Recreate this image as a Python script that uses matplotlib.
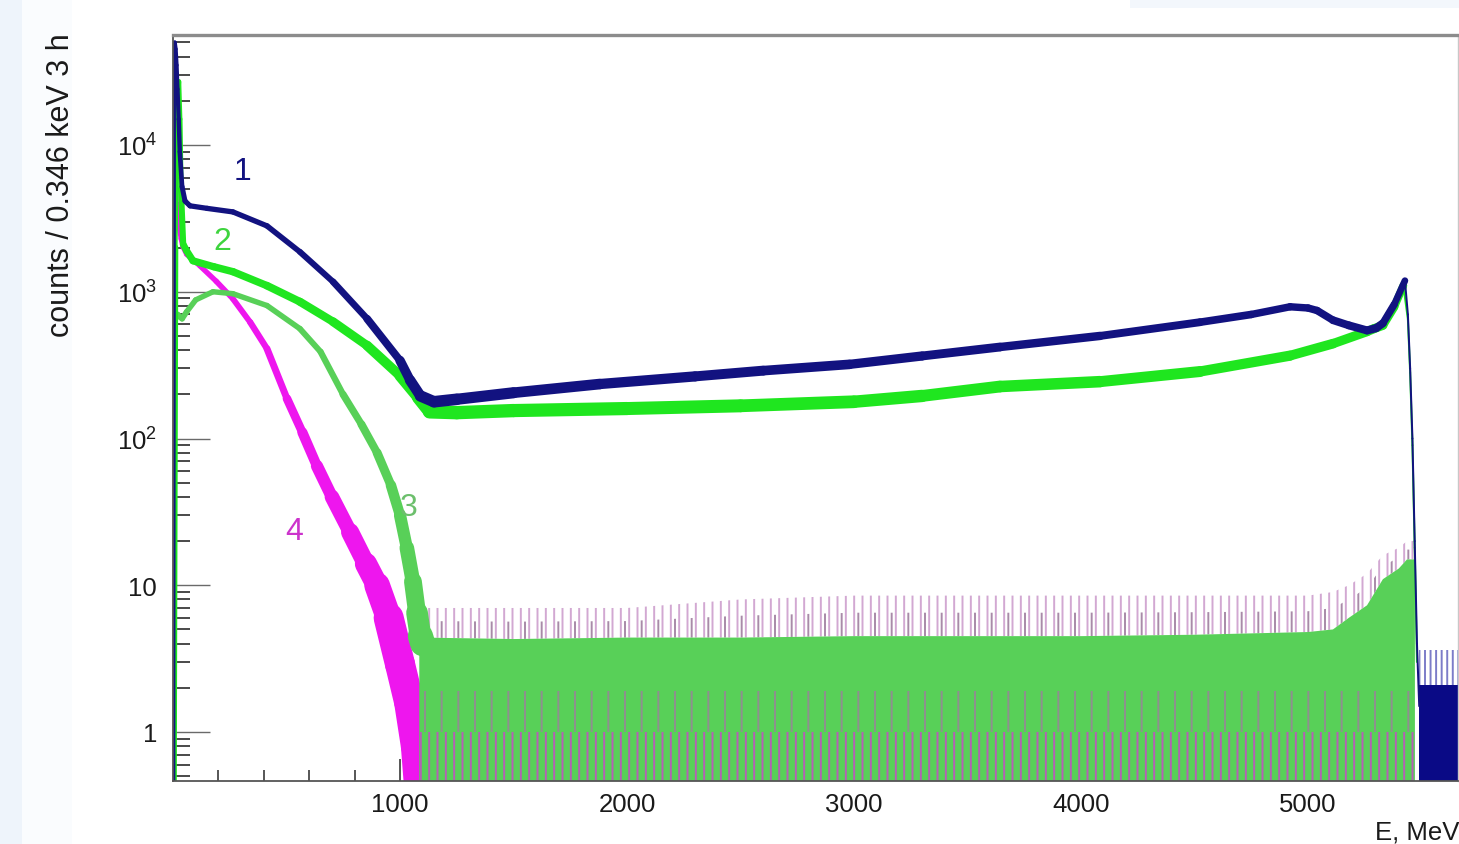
import numpy as np
import matplotlib
matplotlib.use("Agg")
import matplotlib.pyplot as plt
from matplotlib.collections import LineCollection
from matplotlib.ticker import FixedLocator, FixedFormatter, NullFormatter
from matplotlib.patches import Rectangle

plt.rcParams['font.family'] = ['Liberation Sans', 'DejaVu Sans']
plt.rcParams['mathtext.fontset'] = 'custom'
plt.rcParams['mathtext.rm'] = 'Liberation Sans'
plt.rcParams['mathtext.it'] = 'Liberation Sans:italic'
plt.rcParams['hatch.linewidth'] = 1.4

# ---------------- data ----------------
# curve 1 (navy)
e1 = [1, 4, 8, 12, 16, 20, 25, 30, 40, 53, 75, 150, 264, 414, 559, 705, 855,
      1000, 1044, 1090, 1150, 1250, 1500, 1880, 2300, 2600, 2980, 3300, 3643,
      4084, 4524, 4750, 4921, 5000, 5040, 5110, 5180, 5260, 5300, 5330, 5380,
      5427, 5440, 5450, 5460, 5470, 5480, 5490]
c1 = [0.3, 3.0e4, 5.0e4, 4.5e4, 3.5e4, 2.4e4, 1.5e4, 9000, 5200, 4150, 3850,
      3700, 3500, 2810, 1870, 1170, 655, 340, 250, 195, 178, 185, 205, 235, 265,
      290, 320, 365, 420, 500, 620, 700, 790, 775, 745, 640, 590, 545, 565, 610,
      820, 1190, 700, 300, 100, 20, 4, 1.5]

# curve 2 (bright green)
e2 = [1, 8, 15, 20, 25, 30, 35, 45, 60, 88, 180, 264, 414, 559, 705, 855, 1000,
      1080, 1130, 1250, 1500, 2000, 2500, 3000, 3300, 3643, 4084, 4524, 4921,
      5110, 5260, 5290, 5330, 5380, 5420, 5440, 5450, 5460, 5470, 5480]
c2 = [0.3, 2000, 1.2e4, 2.2e4, 2.7e4, 1.5e4, 5000, 2100, 1900, 1625, 1480, 1370,
      1100, 855, 625, 430, 268, 190, 152, 150, 155, 160, 167, 178, 195, 226, 244,
      286, 367, 443, 535, 560, 590, 790, 1100, 650, 280, 90, 18, 3]

# curve 3 (mid green)
e3 = [1, 5, 20, 40, 60, 100, 176, 264, 414, 559, 650, 749, 830, 899, 960, 1000,
      1030, 1057, 1075, 1090, 1100]
c3 = [0.3, 620, 700, 655, 730, 880, 1000, 970, 805, 560, 390, 200, 125, 80, 48,
      30, 18, 10.6, 6.5, 4.5, 4.0]

# curve 4 (magenta)
e4 = [0.5, 1, 10, 20, 35, 44, 60, 119, 190, 264, 340, 414, 502, 570, 634, 700,
      780, 850, 899, 950, 1000, 1040, 1070, 1085]
c4 = [0.3, 1.05e4, 6000, 3200, 2300, 2020, 1800, 1500, 1180, 895, 620, 409, 187,
      110, 65, 40, 23, 14, 10, 6, 2.9, 1.6, 0.8, 0.4]

# low-count floor of curves 3/4 (solid level and spike level)
floor_e = [1085, 1100, 1500, 2000, 2500, 3000, 3500, 4000, 4500, 5000, 5110,
           5180, 5260, 5330, 5400, 5436, 5471]
floor_top = [4.5, 4.4, 4.3, 4.4, 4.4, 4.5, 4.5, 4.5, 4.6, 4.8, 5.0, 6.0, 7.3,
             11.0, 13.0, 15.0, 15.0]
floor_spike = [8, 7, 7, 7, 8, 8.5, 8.5, 8.5, 8.5, 8.5, 9, 10, 12, 16, 18, 20, 20]

# low-count tail of curve 1 beyond the edge
tail_e = [5487, 5700]
tail_top = [2.1, 2.1]
tail_spike = [3.6, 3.6]

y_ticks = [1, 10, 100, 1000, 10000]
y_ticklabels = ['1', '10', r'$\mathregular{10^{2}}$', r'$\mathregular{10^{3}}$',
                r'$\mathregular{10^{4}}$']
x_ticks = [1000, 2000, 3000, 4000, 5000]
x_ticklabels = ['1000', '2000', '3000', '4000', '5000']
curve_labels = ['1', '2', '3', '4']
label_pos_e = [304, 216, 1040, 533]
label_pos_c = [6650, 2220, 34, 23.4]

# ---------------- figure ----------------
W, H = 1459, 845
fig = plt.figure(figsize=(W / 100, H / 100), dpi=100)
fig.patch.set_facecolor('white')
# faint slide background on the left / top right
fig.add_artist(Rectangle((0, 0), 22 / W, 1, transform=fig.transFigure,
                         facecolor='#eef4fb', edgecolor='none', zorder=0))
fig.add_artist(Rectangle((22 / W, 0), 50 / W, 1, transform=fig.transFigure,
                         facecolor='#fafcfe', edgecolor='none', zorder=0))
fig.add_artist(Rectangle((1130 / W, 1 - 9 / H), (W - 1130) / W, 9 / H,
                         transform=fig.transFigure, facecolor='#f3f7fc',
                         edgecolor='none', zorder=0))

left, right, top, bottom = 173, 1457.5, 36, 782
ax = fig.add_axes([left / W, (H - bottom) / H, (right - left) / W, (bottom - top) / H])
ax.set_facecolor('white')
ax.set_yscale('log')
xmax = (right - left) / 227.0 * 1000
ax.set_xlim(0, xmax)
ymin = 10 ** (-(bottom - 733) / 146.75)
ymax = 10 ** (4 + (146 - top) / 146.75)
ax.set_ylim(ymin, ymax)

NAVY = '#121280'
LIME = '#1fe61f'
MIDG = '#58d058'
MAG = '#ee16ee'


def noisy_line(e, c, color, base_px, z, k=120.0, cap=30.0, thin_from=None):
    """Line whose stroke widens at low counts (statistical fuzz of the histogram)."""
    e = np.asarray(e, float)
    c = np.asarray(c, float)
    pts = np.column_stack([e, c])
    segs = np.stack([pts[:-1], pts[1:]], axis=1)
    cm = np.maximum(c[:-1], c[1:])
    wpx = np.minimum(base_px + k / np.sqrt(cm), cap)
    if thin_from is not None:
        wpx = np.where(e[:-1] >= thin_from, 2.0, wpx)
    lc = LineCollection(segs, colors=color, linewidths=wpx * 0.72,
                        capstyle='round', joinstyle='round', zorder=z)
    ax.add_collection(lc)


# floor of curves 4/3 (drawn first)
ax.fill_between(floor_e, floor_top, floor_spike, facecolor='none',
                edgecolor='#d2a8d2', hatch='||', linewidth=0, zorder=1.0)
ax.fill_between(floor_e, floor_top, [0.5 * (a + b) for a, b in zip(floor_top, floor_spike)],
                facecolor='none', edgecolor='#a88aa8', hatch='|', linewidth=0, zorder=1.05)
# curve 4
noisy_line(e4, c4, MAG, 3.5, 1.2, k=70)
# curve 3 and its floor
ax.fill_between(floor_e, ymin, floor_top, facecolor=MIDG, edgecolor='none',
                linewidth=0, zorder=1.4)
ax.fill_between(floor_e, 1.0, 1.9, facecolor='none', edgecolor='#8f8f8f',
                hatch='|', linewidth=0, zorder=1.45)
ax.fill_between(floor_e, ymin, 1.0, facecolor='none', edgecolor='#b560b5',
                hatch='||', linewidth=0, zorder=1.45)
noisy_line(e3, c3, MIDG, 4.0, 1.5, k=45)
# curve 2
noisy_line(e2, c2, LIME, 4.5, 1.7, k=110, thin_from=5420)
# curve 1 and its tail
ax.fill_between(tail_e, tail_top, tail_spike, facecolor='none',
                edgecolor='#7c7cc8', hatch='|||', linewidth=0, zorder=1.8)
ax.fill_between(tail_e, ymin, tail_top, facecolor='#0a0a86', edgecolor='none',
                linewidth=0, zorder=1.85)
noisy_line(e1, c1, NAVY, 3.5, 1.9, k=110, thin_from=5427)

label_colors = [NAVY, '#3ed43e', '#6cbf6c', '#cc33cc']
for t, xe, yc, col in zip(curve_labels, label_pos_e, label_pos_c, label_colors):
    ax.text(xe, yc, t, color=col, fontsize=23, ha='center', va='center', zorder=5)

# ---------------- axes styling ----------------
ax.set_axisbelow(True)
ax.yaxis.set_major_locator(FixedLocator(y_ticks))
ax.yaxis.set_major_formatter(FixedFormatter(y_ticklabels))
minors = [m * 10 ** d for d in range(-1, 5) for m in range(2, 10)]
ax.yaxis.set_minor_locator(FixedLocator([v for v in minors if ymin < v < ymax]))
ax.yaxis.set_minor_formatter(NullFormatter())
ax.xaxis.set_major_locator(FixedLocator(x_ticks))
ax.xaxis.set_major_formatter(FixedFormatter(x_ticklabels))
ax.xaxis.set_minor_locator(FixedLocator([v for v in range(200, 5700, 200) if v % 1000]))
ax.xaxis.set_minor_formatter(NullFormatter())

ax.tick_params(axis='y', which='major', direction='in', length=26.5, width=1.0,
               color='#6a6a6a', pad=11.5, labelsize=18.5, labelcolor='#1a1a1a')
ax.tick_params(axis='y', which='minor', direction='in', length=12, width=1.3,
               color='#3a3a3a')
ax.tick_params(axis='x', which='major', direction='in', length=16, width=1.2,
               color='#3a3a3a', pad=8, labelsize=18.5, labelcolor='#1a1a1a')
ax.tick_params(axis='x', which='minor', direction='in', length=8, width=1.2,
               color='#3a3a3a')
ax.tick_params(top=False, right=False)

for s in ['left', 'bottom']:
    ax.spines[s].set_color('#555555')
    ax.spines[s].set_linewidth(1.3)
ax.spines['top'].set_color('#8c8c8c')
ax.spines['top'].set_linewidth(2.4)
ax.spines['right'].set_color('#c8c8c8')
ax.spines['right'].set_linewidth(1.0)

fig.text(61 / W, 1 - 33 / H, 'counts / 0.346 keV 3 h', rotation=90,
         ha='center', va='top', fontsize=22, color='#1a1a1a')
fig.text(1375 / W, 5 / H, 'E, MeV', ha='left', va='baseline', fontsize=18.5,
         color='#1a1a1a')

fig.savefig('out.png', dpi=100)
